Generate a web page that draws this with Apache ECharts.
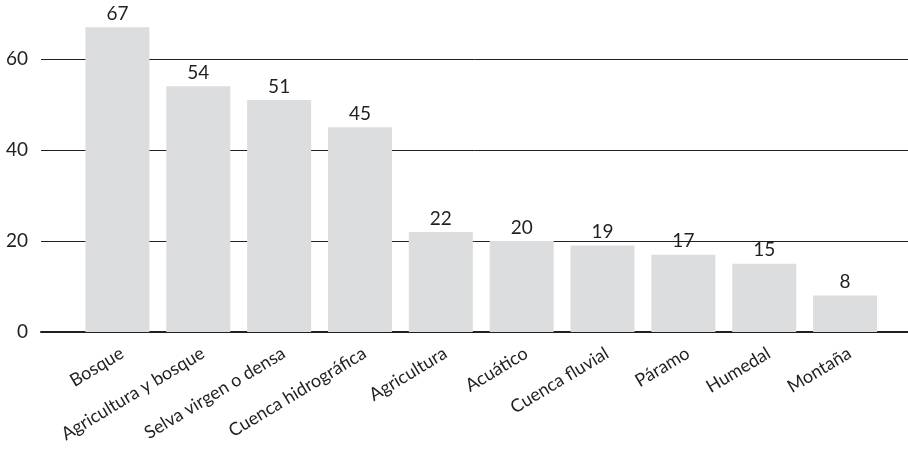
<!DOCTYPE html>
<html><head><meta charset="utf-8">
<script src="https://cdn.jsdelivr.net/npm/echarts@6/dist/echarts.min.js"></script>
<style>html,body{margin:0;padding:0;background:#fff}#c{width:908px;height:463px}</style>
</head><body><div id="c"></div>
<script>
const categories = ["Bosque","Agricultura y bosque","Selva virgen o densa","Cuenca hidrográfica","Agricultura","Acuático","Cuenca fluvial","Páramo","Humedal","Montaña"];
const values = [67,54,51,45,22,20,19,17,15,8];
const yTicks = [0,20,40,60];

const FONT = 'Lato, "Open Sans", sans-serif';
const TXT = '#231f20';
const chart = echarts.init(document.getElementById('c'), null, {renderer:'canvas'});
chart.setOption({
  animation:false,
  grid:[
    {left:41,right:0,top:59,bottom:131},
    {left:77,right:22.5,top:59,bottom:131}
  ],
  xAxis:[
    {gridIndex:0,type:'value',min:0,max:1,
     axisLine:{show:true,lineStyle:{color:TXT,width:2}},
     axisTick:{show:false},axisLabel:{show:false},splitLine:{show:false}},
    {gridIndex:1,type:'category',data:categories,
     axisLine:{show:false},axisTick:{show:false},
     axisLabel:{rotate:31,margin:12,verticalAlign:'top',fontFamily:FONT,fontSize:18,color:TXT,interval:0}}
  ],
  yAxis:[
    {gridIndex:0,type:'value',min:yTicks[0],max:yTicks[yTicks.length-1],interval:20,
     axisLine:{show:false},axisTick:{show:false},
     axisLabel:{margin:13,fontFamily:FONT,fontSize:19,color:TXT},
     splitLine:{show:true,lineStyle:{color:TXT,width:1}}},
    {gridIndex:1,type:'value',min:0,max:60,show:false}
  ],
  series:[{
    type:'bar',xAxisIndex:1,yAxisIndex:1,data:values,clip:false,
    barWidth:64,
    itemStyle:{color:'#dcdddf'},
    label:{show:true,position:'top',distance:4,fontFamily:FONT,fontSize:19,color:TXT}
  }]
});
</script></body></html>
